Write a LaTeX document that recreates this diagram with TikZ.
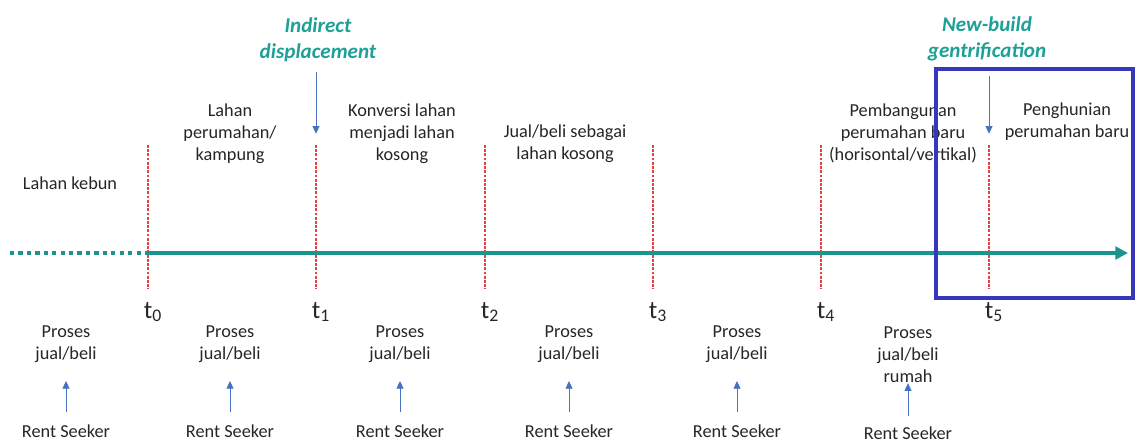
\documentclass[tikz,border=0pt]{standalone}
\usepackage{fontspec}
\setmainfont{Carlito}
\usepackage{tikz}
\usetikzlibrary{arrows.meta,positioning}
\definecolor{tealline}{RGB}{26,148,140}
\definecolor{tealtxt}{RGB}{30,160,150}
\definecolor{arrblue}{RGB}{70,114,190}
\definecolor{boxblue}{RGB}{55,55,185}
\definecolor{tickred}{RGB}{225,70,70}

\begin{document}
\begin{tikzpicture}[x=0.025cm,y=-0.025cm,
  lbl/.style={align=center,inner sep=1pt,text=black!85,font=\fontsize{13}{15.6}\selectfont},
  hdr/.style={align=center,inner sep=1pt,text=tealtxt,font=\fontsize{15}{18.5}\selectfont\bfseries\itshape},
  tlab/.style={inner sep=0pt,text=black!85,font=\fontsize{18}{20}\selectfont},
  tick/.style={draw=tickred,line width=0.8pt,dash pattern=on 2pt off 1pt},
  tline/.style={draw=tealline,line width=2.8pt},
  darr/.style={draw=arrblue,line width=0.6pt,-{Triangle[width=5pt,length=5.5pt]}}]
  \useasboundingbox (0,0) rectangle (1137,443);

  \coordinate (start) at (10,253);
  \coordinate (end) at (1128,253);
  \foreach \i/\x in {0/148,1/316,2/485,3/653,4/821,5/989} {
    \coordinate (c\i) at (\x,253);
    \coordinate (top\i) at (\x,145);
    \coordinate (bot\i) at (\x,289);
    \draw[tick] (top\i) -- (bot\i);
    \node[tlab] (t\i) at (\x+5,312) {t\textsubscript{\i}};
  }
  \draw[tline,dash pattern=on 3pt off 3pt] (start) -- (c0);
  \draw[tline,-{Triangle[width=9pt,length=9pt]}] (c0) -- (end);

  \node[lbl] (kebun) at (70,183) {Lahan kebun};
  \node[lbl] (perum) at (230,134) {Lahan\\perumahan/\\kampung};
  \node[lbl] (konv) at (402,134) {Konversi lahan\\menjadi lahan\\kosong};
  \node[lbl] (jual) at (565,144) {Jual/beli sebagai\\lahan kosong};
  \node[lbl] (bangun) at (903,133) {Pembangunan\\perumahan baru\\(horisontal/vertikal)};
  \node[lbl] (huni) at (1067,122) {Penghunian\\perumahan baru};

  \node[hdr] (indirect) at (318,40) {Indirect\\displacement};
  \node[hdr] (newbuild) at (987,39) {New-build\\gentrification};
  \draw[darr,shorten <=6pt,shorten >=8pt] (indirect.south -| top1) -- (top1);
  \draw[darr,shorten <=9pt,shorten >=8pt] (newbuild.south -| top5) -- (top5);

  \foreach \i/\x in {1/66,2/230,3/400,4/569,5/737} {
    \node[lbl] (proses\i) at (\x,344) {Proses\\jual/beli};
    \node[lbl] (rs\i) at (\x,431) {Rent Seeker};
    \draw[darr,shorten <=7.5pt,shorten >=12pt] (rs\i.north) -- (proses\i.south);
  }
  \node[lbl] (proses6) at (908,355) {Proses\\jual/beli\\rumah};
  \node[lbl] (rs6) at (908,433) {Rent Seeker};
  \draw[darr,shorten <=6.5pt,shorten >=-1pt] (rs6.north) -- (proses6.south);

  \draw[boxblue,line width=2.8pt] (936,69) rectangle (1133,298);
\end{tikzpicture}
\end{document}
